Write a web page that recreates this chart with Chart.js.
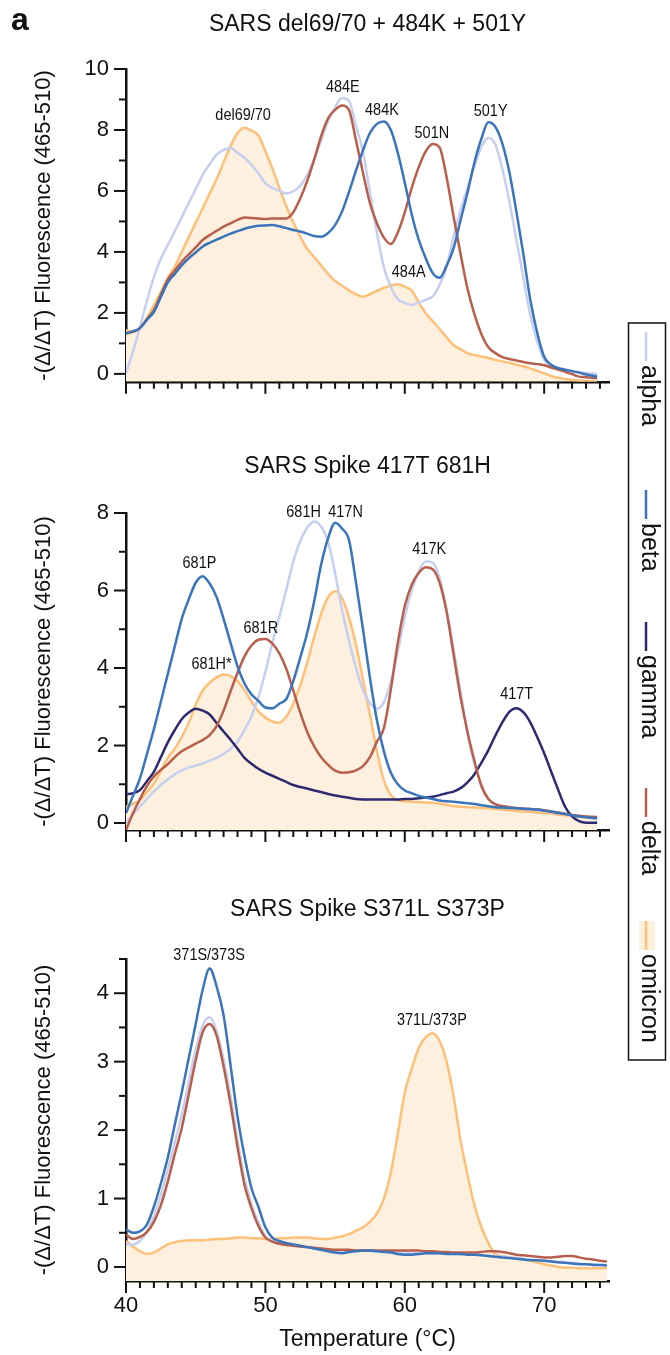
<!DOCTYPE html>
<html>
<head>
<meta charset="utf-8">
<script src="https://cdn.jsdelivr.net/npm/chart.js@4.4.1/dist/chart.umd.min.js"></script>
<style>
  html, body { margin: 0; padding: 0; background: #fff; }
  #wrap { position: relative; width: 670px; height: 1355px; overflow: hidden; }
  canvas { position: absolute; left: 0; }
</style>
</head>
<body>
<div id="wrap">
  <canvas id="c1" width="670" height="400" style="top:0"></canvas>
  <canvas id="c3" width="670" height="475" style="top:880px"></canvas>
  <canvas id="c2" width="670" height="800" style="top:300px"></canvas>
</div>
<script>
/* ── melting curves, three panels ── */

const temps12 = [40,40.5,41,41.5,42,42.5,43,43.5,44,44.5,45,45.5,46,46.5,47,47.5,48,48.5,49,49.5,
  50,50.5,51,51.5,52,52.5,53,53.5,54,54.5,55,55.5,56,56.5,57,57.5,58,58.5,59,59.5,
  60,60.5,61,61.5,62,62.5,63,63.5,64,64.5,65,65.5,66,66.5,67,67.5,68,68.5,69,69.5,
  70,70.5,71,71.5,72,72.5,73,73.5,73.8];
const temps3 = [40,40.5,41,41.5,42,42.5,43,43.5,44,44.5,45,45.5,46,46.5,47,47.5,48,48.5,49,49.5,
  50,50.5,51,51.5,52,52.5,53,53.5,54,54.5,55,55.5,56,56.5,57,57.5,58,58.5,59,59.5,
  60,60.5,61,61.5,62,62.5,63,63.5,64,64.5,65,65.5,66,66.5,67,67.5,68,68.5,69,69.5,
  70,70.5,71,71.5,72,72.5,73,73.5,74,74.5];

// panel 1 : SARS del69/70 + 484K + 501Y
const p1Alpha = [0.02,0.73,1.53,2.39,3.17,3.78,4.23,4.68,5.14,5.6,
  6.06,6.53,6.87,7.19,7.34,7.41,7.25,7.09,6.85,6.58,
  6.25,6.1,6.0,5.92,5.99,6.17,6.53,7.03,7.65,8.3,
  8.75,9.05,8.95,8.13,7.28,5.96,4.62,3.5,2.85,2.45,
  2.33,2.26,2.34,2.43,2.54,2.92,3.51,4.51,5.37,6.1,
  6.8,7.45,7.74,7.52,6.72,5.66,4.42,3.16,1.92,1.07,
  0.46,0.27,0.2,0.13,0.08,0.05,0.03,0.01,-0.01];
const p1Beta = [1.33,1.4,1.5,1.77,2.03,2.52,3.0,3.28,3.56,3.79,
  3.98,4.18,4.3,4.4,4.5,4.6,4.68,4.76,4.82,4.86,
  4.87,4.88,4.84,4.78,4.72,4.67,4.6,4.52,4.5,4.62,
  4.88,5.33,5.97,6.67,7.33,7.9,8.2,8.28,8.0,7.25,
  6.27,5.23,4.4,3.79,3.31,3.15,3.55,4.12,5.04,5.95,
  6.94,7.72,8.25,8.1,7.55,6.62,5.34,3.95,2.44,1.35,
  0.56,0.3,0.19,0.14,0.09,0.04,-0.02,-0.06,-0.09];
const p1Delta = [1.33,1.38,1.5,1.8,2.09,2.6,3.1,3.39,3.68,3.92,
  4.15,4.39,4.55,4.69,4.83,4.94,5.05,5.13,5.11,5.1,
  5.08,5.1,5.1,5.1,5.3,5.75,6.33,7.03,7.8,8.38,
  8.66,8.8,8.65,7.66,6.6,5.6,4.94,4.47,4.26,4.64,
  5.3,6.1,6.78,7.3,7.54,7.42,6.45,5.16,3.94,2.79,
  1.95,1.3,0.87,0.68,0.55,0.49,0.44,0.39,0.35,0.32,
  0.28,0.21,0.14,0.07,-0.01,-0.09,-0.11,-0.13,-0.14];
const p1Omicron = [1.43,1.39,1.51,1.83,2.25,2.68,3.15,3.52,4.0,4.48,
  4.96,5.43,5.91,6.39,6.94,7.47,7.9,8.07,7.98,7.82,
  7.3,6.74,6.1,5.5,4.97,4.5,4.1,3.83,3.56,3.28,
  3.05,2.89,2.74,2.61,2.53,2.62,2.72,2.82,2.9,2.94,
  2.86,2.73,2.35,1.99,1.73,1.47,1.2,0.94,0.81,0.67,
  0.62,0.57,0.52,0.46,0.41,0.36,0.3,0.25,0.18,0.1,
  0.02,-0.07,-0.13,-0.17,-0.2,-0.22,-0.23,-0.24,-0.25];

// panel 2 : SARS Spike 417T 681H
const p2Alpha = [0.0,0.22,0.42,0.62,0.81,0.98,1.13,1.26,1.36,1.43,
  1.48,1.54,1.61,1.68,1.78,1.92,2.1,2.4,2.75,3.25,
  3.9,4.65,5.32,6.02,6.74,7.28,7.62,7.78,7.65,7.25,
  6.45,5.5,4.7,4.0,3.42,3.1,2.95,3.12,3.65,4.42,
  5.32,6.0,6.5,6.75,6.72,6.32,5.5,4.5,3.4,2.3,
  1.5,1.0,0.62,0.5,0.43,0.4,0.38,0.36,0.35,0.33,
  0.32,0.3,0.27,0.24,0.21,0.18,0.16,0.13,0.12];
const p2Beta = [0.26,0.7,1.15,1.78,2.42,3.13,3.85,4.56,5.27,5.77,
  6.2,6.37,6.18,5.83,5.27,4.65,4.04,3.6,3.32,3.15,
  2.98,2.96,3.08,3.2,3.66,4.27,4.91,5.72,6.67,7.35,
  7.75,7.6,7.3,6.2,5.0,3.75,2.65,1.85,1.3,1.0,
  0.84,0.77,0.7,0.66,0.62,0.58,0.56,0.55,0.53,0.51,
  0.49,0.46,0.43,0.41,0.4,0.39,0.38,0.37,0.36,0.35,
  0.32,0.29,0.26,0.23,0.2,0.17,0.15,0.13,0.12];
const p2Gamma = [0.74,0.77,0.85,1.08,1.32,1.7,2.08,2.4,2.68,2.85,
  2.95,2.9,2.8,2.58,2.36,2.15,1.92,1.68,1.53,1.4,
  1.3,1.22,1.14,1.06,0.98,0.93,0.89,0.84,0.8,0.75,
  0.71,0.68,0.65,0.62,0.61,0.61,0.61,0.61,0.61,0.61,
  0.62,0.62,0.64,0.66,0.68,0.72,0.77,0.81,0.9,1.05,
  1.26,1.56,1.88,2.26,2.6,2.87,2.96,2.86,2.6,2.22,
  1.8,1.33,0.86,0.42,0.17,0.05,0.01,0.01,0.01];
const p2Delta = [-0.18,0.25,0.62,0.95,1.2,1.37,1.52,1.7,1.85,1.95,
  2.05,2.14,2.27,2.5,2.9,3.4,3.87,4.3,4.58,4.73,
  4.75,4.63,4.38,3.98,3.42,2.85,2.35,1.98,1.7,1.5,
  1.35,1.3,1.31,1.36,1.47,1.7,2.1,2.45,3.45,4.65,
  5.6,6.15,6.45,6.6,6.55,6.2,5.45,4.35,3.25,2.35,
  1.6,0.95,0.62,0.48,0.44,0.41,0.39,0.37,0.36,0.35,
  0.33,0.3,0.27,0.24,0.21,0.19,0.17,0.16,0.15];
const p2Omicron = [0.42,0.5,0.59,0.8,1.02,1.35,1.68,1.92,2.22,2.58,
  3.05,3.42,3.62,3.76,3.83,3.79,3.66,3.43,3.14,2.88,
  2.72,2.62,2.59,2.75,3.08,3.55,4.14,4.8,5.4,5.83,
  5.98,5.8,5.3,4.6,3.7,2.8,1.85,1.1,0.72,0.59,
  0.56,0.55,0.54,0.53,0.52,0.5,0.47,0.44,0.42,0.41,
  0.4,0.39,0.38,0.37,0.35,0.33,0.31,0.3,0.29,0.27,
  0.26,0.25,0.22,0.2,0.18,0.16,0.14,0.13,0.12];

// panel 3 : SARS Spike S371L S373P
const p3Alpha = [0.33,0.33,0.38,0.52,0.73,1.05,1.42,1.82,2.22,2.7,
  3.18,3.53,3.65,3.45,3.03,2.5,1.85,1.3,0.92,0.65,
  0.45,0.38,0.35,0.33,0.31,0.3,0.29,0.27,0.26,0.25,
  0.24,0.24,0.24,0.24,0.24,0.23,0.23,0.23,0.22,0.21,
  0.21,0.2,0.2,0.2,0.2,0.2,0.2,0.19,0.19,0.19,
  0.18,0.17,0.16,0.16,0.15,0.14,0.13,0.12,0.11,0.1,
  0.09,0.08,0.07,0.06,0.06,0.05,0.04,0.04,0.03,0.03];
const p3Beta = [0.55,0.5,0.52,0.62,0.88,1.22,1.6,2.08,2.55,3.05,
  3.55,4.05,4.36,4.1,3.68,2.95,2.2,1.62,1.15,0.88,
  0.58,0.43,0.38,0.35,0.33,0.31,0.29,0.27,0.25,0.23,
  0.21,0.2,0.22,0.23,0.24,0.24,0.23,0.22,0.21,0.19,
  0.18,0.18,0.19,0.2,0.2,0.2,0.19,0.19,0.19,0.18,
  0.18,0.17,0.16,0.15,0.14,0.13,0.12,0.11,0.1,0.1,
  0.09,0.08,0.07,0.06,0.05,0.04,0.04,0.03,0.03,0.02];
const p3Delta = [0.47,0.41,0.44,0.51,0.66,0.9,1.25,1.65,2.03,2.52,
  3.02,3.43,3.55,3.38,2.93,2.38,1.75,1.2,0.86,0.6,
  0.43,0.37,0.34,0.32,0.31,0.3,0.29,0.28,0.27,0.26,
  0.25,0.25,0.25,0.24,0.24,0.24,0.24,0.24,0.24,0.24,
  0.24,0.24,0.24,0.23,0.23,0.22,0.22,0.21,0.21,0.21,
  0.21,0.22,0.23,0.23,0.22,0.2,0.18,0.17,0.16,0.15,
  0.14,0.14,0.15,0.16,0.16,0.14,0.12,0.11,0.09,0.08];
const p3Omicron = [0.38,0.3,0.23,0.19,0.21,0.27,0.33,0.36,0.38,0.39,
  0.39,0.39,0.4,0.41,0.41,0.42,0.43,0.43,0.42,0.42,
  0.41,0.41,0.42,0.42,0.43,0.43,0.43,0.42,0.41,0.41,
  0.43,0.45,0.48,0.53,0.58,0.66,0.78,1.0,1.38,1.95,
  2.55,2.9,3.2,3.36,3.41,3.3,3.0,2.5,1.85,1.35,
  0.9,0.58,0.35,0.19,0.16,0.14,0.13,0.11,0.09,0.07,
  0.04,0.02,0.0,-0.01,-0.01,-0.02,-0.02,-0.02,-0.02,-0.02];

// peak annotations (name, temperature, height)
const p1PeakNames = ['del69/70', '484E', '484K', '501N', '501Y', '484A'];
const p1PeakT = [48.4, 55.55, 58.36, 61.94, 66.16, 60.28];
const p1PeakV = [8.47, 9.4, 8.64, 7.88, 8.61, 3.32];
const p2PeakNames = ['681P', '681H*', '681R', '681H', '417N', '417K', '417T'];
const p2PeakT = [45.27, 46.14, 49.67, 52.74, 55.75, 61.75, 68.03];
const p2PeakV = [6.69, 4.09, 5.03, 8.03, 8.03, 7.07, 3.31];
const p3PeakNames = ['371S/373S', '371L/373P'];
const p3PeakT = [45.96, 61.94];
const p3PeakV = [4.56, 3.61];

const xTicks = [40,41,42,43,44,45,46,47,48,49,50,51,52,53,54,55,56,57,58,59,
  60,61,62,63,64,65,66,67,68,69,70,71,72,73,74];
const yTicks1 = [0,1,2,3,4,5,6,7,8,9,10];
const yTicks2 = [0,1,2,3,4,5,6,7,8];
const yTicks3 = [0,0.5,1,1.5,2,2.5,3,3.5,4,4.5];

const COL = { alpha: '#c7cff0', beta: '#3a74ba', gamma: '#2d2a70', delta: '#b85f4c', omicron: '#fec078' };
const OMI_FILL = '#fef0de';
const ORDER = { alpha: 4, beta: 1, gamma: 3, delta: 2, omicron: 5 };
const INK = '#111';
const FONT = '"Liberation Sans", Arial, Helvetica, sans-serif';

Chart.defaults.font.family = FONT;
Chart.defaults.color = INK;

function notes(cfg) {
  return {
    id: 'notes',
    afterDraw(chart) {
      const { ctx, chartArea: ca } = chart;
      const xs = chart.scales.x, ys = chart.scales.y;
      ctx.save();
      // tick marks, long ones where a label sits
      ctx.strokeStyle = INK; ctx.lineWidth = 2;
      xs.ticks.forEach(tk => {
        const px = xs.getPixelForValue(tk.value);
        const len = tk.value % 10 === 0 ? 12 : 7;
        ctx.beginPath(); ctx.moveTo(px, ca.bottom); ctx.lineTo(px, ca.bottom + len); ctx.stroke();
      });
      ys.ticks.forEach(tk => {
        const py = ys.getPixelForValue(tk.value);
        const len = tk.value % cfg.yStep === 0 ? 12 : 7;
        ctx.beginPath(); ctx.moveTo(ca.left, py); ctx.lineTo(ca.left - len, py); ctx.stroke();
      });
      // panel title
      ctx.fillStyle = INK;
      ctx.font = '23px ' + FONT;
      ctx.textAlign = 'center'; ctx.textBaseline = 'alphabetic';
      ctx.fillText(cfg.title, (ca.left + ca.right) / 2, cfg.titleY);
      if (cfg.letter) {
        ctx.font = 'bold 32px ' + FONT;
        ctx.textAlign = 'left';
        ctx.fillText(cfg.letter, 11, 30);
      }
      // peak names
      ctx.font = '17px ' + FONT;
      ctx.textAlign = 'center'; ctx.textBaseline = 'middle';
      cfg.names.forEach((n, i) => {
        const px = xs.getPixelForValue(cfg.t[i]), py = ys.getPixelForValue(cfg.v[i]);
        ctx.save(); ctx.translate(px, py); ctx.scale(0.85, 1); ctx.fillText(n, 0, 0); ctx.restore();
      });
      // vertical legend (only on the middle chart, its canvas spans the right column)
      if (cfg.legend) {
        const L = cfg.legend;
        ctx.lineWidth = 1.5; ctx.strokeStyle = INK;
        ctx.strokeRect(L.left, L.top, L.right - L.left, L.bottom - L.top);
        chart.data.datasets.forEach((ds, i) => {
          const y0 = L.starts[i], cx = (L.left + L.right) / 2;
          if (ds.fill) {
            ctx.fillStyle = ds.backgroundColor;
            ctx.fillRect(cx - 8, y0, 16, 29);
          }
          ctx.strokeStyle = ds.borderColor; ctx.lineWidth = 2.5;
          ctx.beginPath(); ctx.moveTo(cx - 1, y0); ctx.lineTo(cx - 1, y0 + 29); ctx.stroke();
          ctx.save();
          ctx.translate(cx - 5, y0 + 33);
          ctx.rotate(Math.PI / 2);
          ctx.fillStyle = INK;
          ctx.font = '25px ' + FONT;
          ctx.textAlign = 'left'; ctx.textBaseline = 'alphabetic';
          ctx.fillText(ds.label, 0, 0);
          ctx.restore();
        });
      }
      ctx.restore();
    }
  };
}

function panel(id, p) {
  const datasets = p.series.map(([name, vals]) => ({
    label: name,
    data: p.temps.map((t, i) => ({ x: t, y: vals[i] })),
    borderColor: COL[name],
    backgroundColor: name === 'omicron' ? OMI_FILL : COL[name],
    fill: name === 'omicron' ? 'start' : false,
    borderWidth: 2.5,
    pointRadius: 0,
    cubicInterpolationMode: 'monotone',
    order: ORDER[name]
  }));
  return new Chart(document.getElementById(id), {
    type: 'line',
    data: { datasets },
    options: {
      responsive: false, animation: false, events: [],
      layout: { padding: { top: p.padTop, bottom: p.padBottom, left: 0, right: 61 } },
      plugins: {
        legend: { display: false }, tooltip: { enabled: false },
        filler: { drawTime: 'beforeDatasetsDraw' }
      },
      scales: {
        x: {
          type: 'linear', min: 40, max: 74.65,
          afterBuildTicks: s => { s.ticks = xTicks.map(v => ({ value: v })); },
          afterFit: s => { s.height = p.xHeight; },
          ticks: {
            display: p.showX, autoSkip: false, maxRotation: 0, padding: 0,
            font: { size: 22 }, color: INK,
            callback: v => (v % 10 === 0 ? String(v) : '')
          },
          grid: { display: false, drawTicks: true, tickLength: 12 },
          border: { display: true, color: INK, width: 2.5 },
          title: { display: p.showX, text: 'Temperature (°C)', font: { size: 23 }, color: INK, padding: { top: 0, bottom: 2 } }
        },
        y: {
          min: p.yMin, max: p.yMax,
          afterBuildTicks: s => { s.ticks = p.yTicks.map(v => ({ value: v })); },
          afterFit: s => { s.width = 126; },
          ticks: {
            autoSkip: false, padding: 5, font: { size: 22 }, color: INK,
            callback: v => (v % p.yStep === 0 ? String(v) : '')
          },
          grid: { display: false, drawTicks: true, tickLength: 12 },
          border: { display: true, color: INK, width: 2.5 },
          title: { display: true, text: '-(Δ/ΔT) Fluorescence (465-510)', font: { size: 22 }, color: INK, padding: { top: 31, bottom: 0 } }
        }
      }
    },
    plugins: [notes(p.notes)]
  });
}

panel('c1', {
  temps: temps12,
  series: [['alpha', p1Alpha], ['beta', p1Beta], ['delta', p1Delta], ['omicron', p1Omicron]],
  padTop: 69, padBottom: 0, xHeight: 16, showX: false,
  yMin: -0.26, yMax: 10, yTicks: yTicks1, yStep: 2,
  notes: { title: 'SARS del69/70 + 484K + 501Y', titleY: 30.5, letter: 'a', yStep: 2,
           names: p1PeakNames, t: p1PeakT, v: p1PeakV }
});

panel('c2', {
  temps: temps12,
  series: [['alpha', p2Alpha], ['beta', p2Beta], ['gamma', p2Gamma], ['delta', p2Delta], ['omicron', p2Omicron]],
  padTop: 213, padBottom: 254, xHeight: 16, showX: false,
  yMin: -0.18, yMax: 8, yTicks: yTicks2, yStep: 2,
  notes: { title: 'SARS Spike 417T 681H', titleY: 173, yStep: 2,
           names: p2PeakNames, t: p2PeakT, v: p2PeakV,
           legend: { left: 628.5, right: 665.5, top: 23, bottom: 760, starts: [32, 190, 322, 488, 621] } }
});

panel('c3', {
  temps: temps3,
  series: [['alpha', p3Alpha], ['beta', p3Beta], ['delta', p3Delta], ['omicron', p3Omicron]],
  padTop: 79, padBottom: 0, xHeight: 74, showX: true,
  yMin: -0.205, yMax: 4.5, yTicks: yTicks3, yStep: 1,
  notes: { title: 'SARS Spike S371L S373P', titleY: 36, yStep: 1,
           names: p3PeakNames, t: p3PeakT, v: p3PeakV }
});
</script>
</body>
</html>
